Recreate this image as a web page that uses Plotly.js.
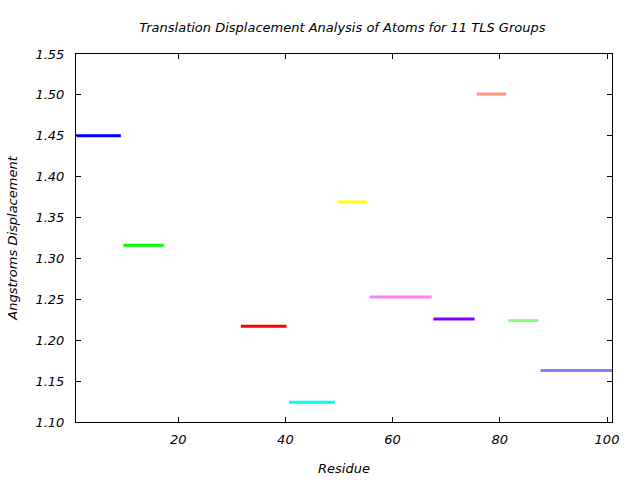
<!DOCTYPE html>
<html>
<head>
<meta charset="utf-8">
<script src="https://cdn.plot.ly/plotly-3.0.1.min.js"></script>
<style>html,body{margin:0;padding:0;background:#fff;}#chart{width:640px;height:480px;}</style>
</head>
<body>
<div id="chart"></div>
<script>
// TLS group residue ranges and translation displacement (Angstroms)
const groupStart = [1, 9.75, 31.7, 40.7, 49.8, 55.7, 67.6, 75.7, 81.6, 87.6];
const groupEnd   = [9.3, 17.3, 40.2, 49.2, 55.2, 67.3, 75.3, 81.2, 87.2, 101.5];
const displacement = [1.450, 1.316, 1.217, 1.124, 1.369, 1.253, 1.226, 1.501, 1.224, 1.163];
const groupColors = ['#0000ff', '#00ff00', '#ff0000', '#00ffff', '#ffff00', '#ff80ff', '#8000ff', '#ff9680', '#80ff80', '#8080ff'];
const xTicks = [20, 40, 60, 80, 100];

const fontFam = '"DejaVu Sans", sans-serif';
const traces = groupStart.map((s, i) => ({
  type: 'scatter',
  mode: 'lines',
  x: [s, groupEnd[i]],
  y: [displacement[i], displacement[i]],
  line: {color: groupColors[i], width: 3},
  hoverinfo: 'skip',
  showlegend: false
}));

const layout = {
  width: 640, height: 480,
  margin: {l: 76, r: 28, t: 54, b: 58},
  paper_bgcolor: '#fff', plot_bgcolor: '#fff',
  font: {family: fontFam, size: 13, color: '#000', style: 'italic'},
  title: {text: 'Translation Displacement Analysis of Atoms for 11 TLS Groups',
          font: {family: fontFam, size: 13, style: 'italic', color: '#000'},
          x: 0.535, xanchor: 'center', y: 0.943, yanchor: 'middle'},
  xaxis: {
    range: [0.94, 100.93], tickvals: xTicks, ticks: 'inside', ticklen: 5, tickcolor: '#000',
    showline: true, linecolor: '#000', linewidth: 1, mirror: 'ticks', showgrid: false, zeroline: false,
    ticklabelstandoff: 5,
    tickfont: {family: fontFam, size: 13, style: 'italic'},
    title: {text: 'Residue', font: {family: fontFam, size: 13, style: 'italic'}, standoff: 18}
  },
  yaxis: {
    range: [1.10, 1.55], dtick: 0.05, tick0: 1.10, tickformat: '.2f', ticks: 'inside', ticklen: 5, tickcolor: '#000',
    showline: true, linecolor: '#000', linewidth: 1, mirror: 'ticks', showgrid: false, zeroline: false,
    ticklabelstandoff: 8,
    tickfont: {family: fontFam, size: 13, style: 'italic'},
    title: {text: 'Angstroms Displacement', font: {family: fontFam, size: 13, style: 'italic'}, standoff: 14}
  }
};

Plotly.newPlot('chart', traces, layout, {displayModeBar: false, staticPlot: true});
</script>
</body>
</html>
